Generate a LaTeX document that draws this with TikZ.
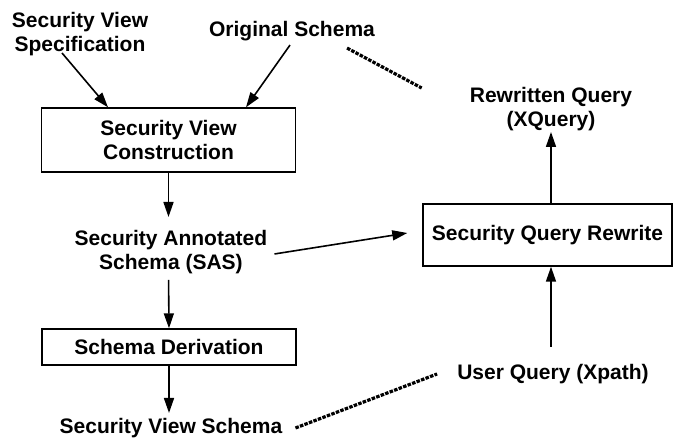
\documentclass[tikz,border=0pt]{standalone}
\usepackage{fontspec}
\setmainfont{Liberation Sans}
\usetikzlibrary{arrows.meta}
\begin{document}
\begin{tikzpicture}[x=1pt,y=-1pt,
  every node/.style={font=\bfseries\fontsize{21pt}{24pt}\selectfont, align=center, inner sep=0pt},
  lbl/.style={anchor=north},
  procbox/.style={draw, line width=1.4pt, minimum width=#1, anchor=center},
  arr/.style={line width=1.6pt, -{Triangle[length=15pt,width=10pt]}},
  dash line/.style={line width=3.2pt, dash pattern=on 3.5pt off 1.3pt}
]
\useasboundingbox (0,0) rectangle (673,438);

\node[lbl] (spec) at (80,12) {Security View\\Specification};
\node[lbl] (orig) at (292,21) {Original Schema};
\node[procbox=254pt, minimum height=64pt] (svc) at (168.5,140) {Security View\\Construction};
\node[lbl] (rq) at (551,87) {Rewritten Query\\(XQuery)};
\node[procbox=249pt, minimum height=62pt] (sqr) at (547.5,235) {Security Query Rewrite};
\node[lbl] (sas) at (171,230) {Security Annotated\\Schema (SAS)};
\node[procbox=254pt, minimum height=36pt] (sd) at (169,347) {Schema Derivation};
\node[lbl] (svs) at (171,418) {Security View Schema};
\node[lbl] (uq) at (553,364) {User Query (Xpath)};

\draw[arr] ([xshift=-18pt,yshift=3pt]spec.south) -- ([xshift=-60.5pt]svc.north);
\draw[arr] ([xshift=-2pt,yshift=-4pt]orig.south) -- ([xshift=77.5pt]svc.north);
\draw[dash line] ([xshift=-28pt,yshift=-7pt]orig.south east) -- ([xshift=-48pt,yshift=-1pt]rq.north west);
\draw[arr] (sqr.north -| rq) -- ([yshift=-1pt]rq.south);
\draw[arr, shorten >=13pt] (svc.south) -- (svc.south |- sas.north);
\draw[arr] ([xshift=7pt,yshift=-2pt]sas.east) -- ([xshift=-15pt,yshift=2pt]sqr.west);
\draw[arr, shorten <=6pt] (sas.south -| svc) -- (sd.north);
\draw[arr, shorten >=5pt] (sd.south) -- (sd.south |- svs.north);
\draw[arr, shorten <=17pt] (uq.north -| rq) -- (sqr.south -| rq);
\draw[dash line] ([xshift=13pt]svs.east) -- ([xshift=-20pt]uq.west);
\end{tikzpicture}
\end{document}
